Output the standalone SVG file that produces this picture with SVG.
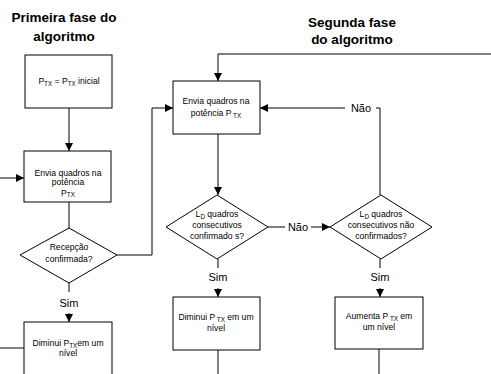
<svg xmlns="http://www.w3.org/2000/svg" width="491" height="374" viewBox="0 0 491 374">
<defs>
<marker id="ah" markerWidth="8" markerHeight="8" refX="8" refY="4" orient="auto" markerUnits="userSpaceOnUse">
<path d="M0,0 L8,4 L0,8 Z" fill="#000"/>
</marker>
<style>
.box{fill:#fff;stroke:#000;stroke-width:1}
.ln{fill:none;stroke:#000;stroke-width:1}
.t{font-family:"Liberation Sans",Arial,sans-serif;font-size:8.6px;fill:#000;text-anchor:middle}
.lbl{font-family:"Liberation Sans",Arial,sans-serif;font-size:11px;fill:#000;text-anchor:middle}
.ttl{font-family:"Liberation Sans",Arial,sans-serif;font-size:13.5px;font-weight:bold;fill:#000;text-anchor:middle}
.sub{font-size:6.3px}
</style>
</defs>
<rect width="491" height="374" fill="#fff"/>
<text class="ttl" x="64" y="22">Primeira fase do</text>
<text class="ttl" x="64" y="41">algoritmo</text>
<text class="ttl" x="352" y="27">Segunda fase</text>
<text class="ttl" x="352" y="44">do algoritmo</text>

<g id="connectors">
<path class="ln" d="M69,108 V151" marker-end="url(#ah)"/>
<path class="ln" d="M0,178 H24" marker-end="url(#ah)"/>
<path class="ln" d="M69,202 V228"/>
<path class="ln" d="M69,283 V292"/>
<path class="ln" d="M69,313 V322" marker-end="url(#ah)"/>
<path class="ln" d="M0,348 H24"/>
<path class="ln" d="M117,255 H152 V108 H173" marker-end="url(#ah)"/>
<path class="ln" d="M491,54 H218 V81" marker-end="url(#ah)"/>
<path class="ln" d="M218,134 V195" marker-end="url(#ah)"/>
<path class="ln" d="M268,227 H285"/>
<path class="ln" d="M311,227 H330" marker-end="url(#ah)"/>
<path class="ln" d="M380,195 V108 H376"/>
<path class="ln" d="M345,108 H260" marker-end="url(#ah)"/>
<path class="ln" d="M218,259 V268"/>
<path class="ln" d="M218,288 V297" marker-end="url(#ah)"/>
<path class="ln" d="M380,259 V268"/>
<path class="ln" d="M380,288 V297" marker-end="url(#ah)"/>
<path class="ln" d="M218,350 V374"/>
<path class="ln" d="M379,349 V374"/>
<text class="lbl" x="298" y="231">Não</text>
<text class="lbl" x="361" y="112">Não</text>
<text class="lbl" x="69" y="307">Sim</text>
<text class="lbl" x="218" y="281">Sim</text>
<text class="lbl" x="380" y="281">Sim</text>
</g>

<g id="n1">
<rect class="box" x="25" y="55" width="87" height="53"/>
<text class="t" x="69" y="84">P<tspan class="sub" dy="2">TX</tspan><tspan dy="-2"> =  P</tspan><tspan class="sub" dy="2">TX</tspan><tspan dy="-2"> inicial</tspan></text>
</g>
<g id="n2">
<rect class="box" x="24" y="151" width="87" height="51"/>
<text class="t" x="68" y="175.5">Envia quadros na</text>
<text class="t" x="68" y="185">potência</text>
<text class="t" x="68" y="195.5">P<tspan class="sub" dy="1.5">TX</tspan></text>
</g>
<g id="n3">
<polygon class="box" points="69,228 117,255 69,283 20,255"/>
<text class="t" x="69" y="250">Recepção</text>
<text class="t" x="69" y="262">confirmada?</text>
</g>
<g id="n4">
<rect class="box" x="24" y="322" width="88" height="60"/>
<text class="t" x="68" y="346">Diminui P<tspan class="sub" dy="2">TX</tspan><tspan dy="-2">em um</tspan></text>
<text class="t" x="68" y="356">nível</text>
</g>
<g id="n5">
<rect class="box" x="173" y="81" width="87" height="53"/>
<text class="t" x="216" y="104">Envia quadros na</text>
<text class="t" x="216" y="116">potência  P<tspan class="sub" dy="2"> TX</tspan></text>
</g>
<g id="n6">
<polygon class="box" points="217,195 268,227 217,259 166,227"/>
<text class="t" x="217" y="217">L<tspan class="sub" dy="2">D</tspan><tspan dy="-2"> quadros</tspan></text>
<text class="t" x="217" y="228">consecutivos</text>
<text class="t" x="217" y="239">confirmado s?</text>
</g>
<g id="n7">
<polygon class="box" points="381,195 432,227 381,259 330,227"/>
<text class="t" x="381" y="217">L<tspan class="sub" dy="2">D</tspan><tspan dy="-2"> quadros</tspan></text>
<text class="t" x="381" y="228">consecutivos não</text>
<text class="t" x="381" y="239">confirmados?</text>
</g>
<g id="n8">
<rect class="box" x="173" y="297" width="87" height="53"/>
<text class="t" x="216" y="320">Diminui P<tspan class="sub" dy="2"> TX</tspan><tspan dy="-2"> em um</tspan></text>
<text class="t" x="216" y="331">nível</text>
</g>
<g id="n9">
<rect class="box" x="335" y="297" width="88" height="52"/>
<text class="t" x="379" y="319">Aumenta P<tspan class="sub" dy="2"> TX</tspan><tspan dy="-2"> em</tspan></text>
<text class="t" x="379" y="330">um nível</text>
</g>
</svg>
